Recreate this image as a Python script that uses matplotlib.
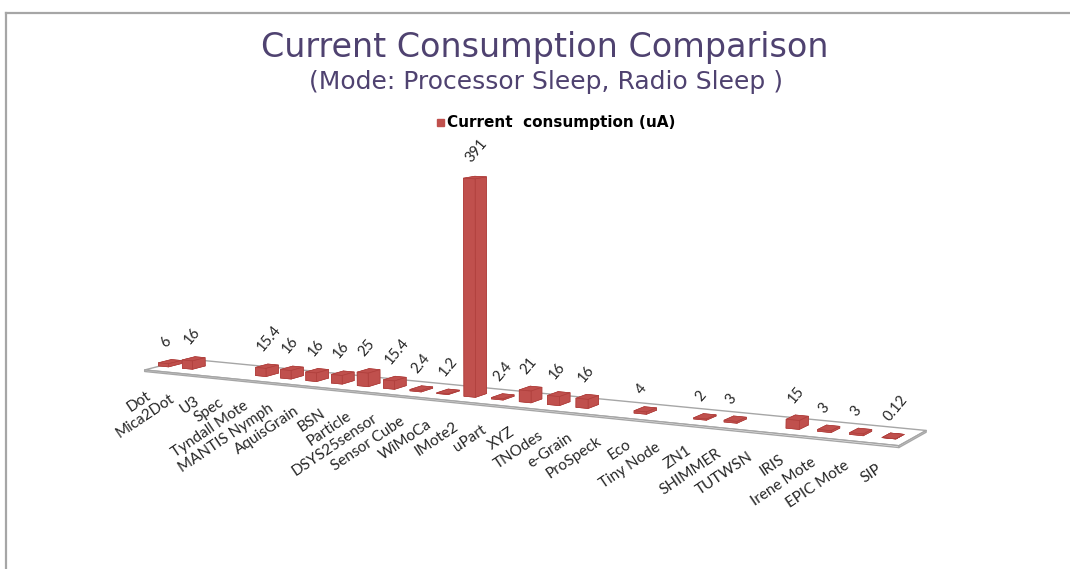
import matplotlib.pyplot as plt
import numpy as np
from matplotlib.lines import Line2D
from mpl_toolkits.mplot3d import proj3d
from mpl_toolkits.mplot3d.art3d import Poly3DCollection

devices = ["Dot", "Mica2Dot", "U3", "Spec", "Tyndall Mote", "MANTIS Nymph",
           "AquisGrain", "BSN", "Particle", "DSYS25sensor", "Sensor Cube",
           "WiMoCa", "IMote2", "uPart", "XYZ", "TNOdes", "e-Grain", "ProSpeck",
           "Eco", "Tiny Node", "ZN1", "SHIMMER", "TUTWSN", "IRIS",
           "Irene Mote", "EPIC Mote", "SIP"]
current_ua = [6, 16, np.nan, np.nan, 15.4, 16, 16, 16, 25, 15.4, 2.4, 1.2,
              391, 2.4, 21, 16, 16, np.nan, 4, np.nan, 2, 3, np.nan, 15, 3, 3,
              0.12]

red = "#c0504d"
n = len(devices)

fig = plt.figure(figsize=(10.70, 5.69), dpi=100)
fig.patch.set_facecolor("white")

# tall axes so the square 3D drawing area is wide enough not to clip
ax = fig.add_axes([-0.094, -0.496, 1.1, 1.933], projection="3d")
ax.set_axis_off()
ax.computed_zorder = False
ax.set_proj_type("persp", focal_length=0.4)
ax.view_init(elev=8, azim=-62)
ax.set_xlim(-0.5, n - 0.5)
ax.set_ylim(-1.25, 1.25)
ax.set_zlim(0, 400)
ax.set_box_aspect((27, 2.5, 7.17), zoom=0.78)

# floor slab
d = 1.25
x0, x1 = -0.15, n - 0.4
top = [(x0, -d, 0), (x1, -d, 0), (x1, d, 0), (x0, d, 0)]
front = [(x0, -d, 0), (x1, -d, 0), (x1, -d, -3), (x0, -d, -3)]
side = [(x1, -d, 0), (x1, d, 0), (x1, d, -3), (x1, -d, -3)]
floor = Poly3DCollection([top, front, side], facecolors="white",
                         edgecolors="#a6a6a6", linewidths=1.0, zorder=1)
ax.add_collection3d(floor)

bw, bd = 0.42, 0.75
for i, v in enumerate(current_ua):
    if np.isnan(v):
        continue
    ax.bar3d(i - bw / 2, -bd / 2, 0, bw, bd, v, color=red, shade=False,
             edgecolor="#b0403d", linewidth=0.5, zorder=2 + i)

M = ax.get_proj()


def to2d(x, y, z):
    x2, y2, _ = proj3d.proj_transform(x, y, z, M)
    return x2, y2


for i, name in enumerate(devices):
    ax.annotate(name, xy=to2d(i, -d, -3), xycoords="data",
                xytext=(-2, -12), textcoords="offset points",
                rotation=34, rotation_mode="anchor", ha="right", va="top",
                fontsize=11, color="#262626", family="Lato", zorder=50)

for i, v in enumerate(current_ua):
    if np.isnan(v):
        continue
    ax.annotate("{:g}".format(v), xy=to2d(i, 0, v), xycoords="data",
                xytext=(-5, 12), textcoords="offset points",
                rotation=50, rotation_mode="anchor", ha="left", va="center",
                fontsize=10.5, color="#262626", family="Lato", zorder=50)

fig.text(0.509, 0.917, "Current Consumption Comparison", ha="center",
         va="center", fontsize=24, color="#4f4270", family="DejaVu Sans")
fig.text(0.510, 0.856, "(Mode: Processor Sleep, Radio Sleep )", ha="center",
         va="center", fontsize=18, color="#4f4270", family="DejaVu Sans")
fig.add_artist(plt.Rectangle((0.408, 0.778), 0.0065, 0.012,
                             transform=fig.transFigure, color=red))
fig.text(0.418, 0.785, "Current  consumption (uA)", ha="left", va="center",
         fontsize=11, color="black", family="DejaVu Sans", weight="bold")

fig.add_artist(Line2D([6 / 1070, 6 / 1070], [0, 1 - 13 / 569],
                      transform=fig.transFigure, color="#a6a6a6", lw=1.6))
fig.add_artist(Line2D([6 / 1070, 1], [1 - 13 / 569, 1 - 13 / 569],
                      transform=fig.transFigure, color="#a6a6a6", lw=1.6))

fig.savefig("out.png", dpi=100)
